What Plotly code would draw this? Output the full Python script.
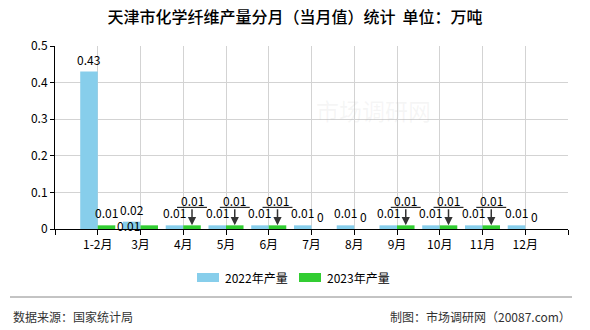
import plotly.graph_objects as go

# ---------------- data ----------------
categories = ["1-2月", "3月", "4月", "5月", "6月", "7月", "8月", "9月", "10月", "11月", "12月"]
values_2022 = [0.43, 0.02, 0.01, 0.01, 0.01, 0.01, 0.01, 0.01, 0.01, 0.01, 0.01]
values_2023 = [0.01, 0.01, 0.01, 0.01, 0.01, 0, 0, 0.01, 0.01, 0.01, 0]
series_names = ["2022年产量", "2023年产量"]
# label placement for 2023 labels (presentation only)
label_style_2023 = ["plain", "shifted", "arrow", "arrow", "arrow", "plain", "plain",
                    "arrow", "arrow", "arrow", "plain"]
y_ticks = [0, 0.1, 0.2, 0.3, 0.4, 0.5]

title_text = "天津市化学纤维产量分月（当月值）统计  单位：万吨"
source_text = "数据来源：国家统计局"
credit_text = "制图：市场调研网（20087.com）"
watermark_text = "市场调研网"

# ---------------- style ----------------
W, H = 590, 330
L, R, T, B = 55, 568, 46, 229
FONT = "Noto Sans CJK SC"
BLUE = "#87CEEB"
GREEN = "#32CD32"
GRID = "#d3d3d3"
BAR_GAP = 0.18
HALF = (1 - BAR_GAP) / 4  # offset of each bar centre from category position


def px_x(px):
    return (px - L) / (R - L)


def px_y(py):
    return (B - py) / (B - T)


xpos = [i + 1 for i in range(len(categories))]

fig = go.Figure()
fig.add_trace(go.Bar(x=xpos, y=values_2022, name=series_names[0], marker_color=BLUE,
                     marker_line_width=0, showlegend=False))
fig.add_trace(go.Bar(x=xpos, y=values_2023, name=series_names[1], marker_color=GREEN,
                     marker_line_width=0, showlegend=False))

annotations = []
shapes = []
lab_font = dict(family=FONT, size=12, color="#000000")

for i, x in enumerate(xpos):
    # 2022 labels
    annotations.append(dict(x=x - HALF, y=values_2022[i], xref="x", yref="y",
                            text=f"{values_2022[i]:g}", showarrow=False,
                            yanchor="middle", yshift=12.5, font=lab_font))
    v = values_2023[i]
    st = label_style_2023[i]
    if st == "plain":
        annotations.append(dict(x=x + HALF, y=v, xref="x", yref="y",
                                text=f"{v:g}", showarrow=False,
                                yanchor="middle", yshift=12.5, font=lab_font))
    elif st == "shifted":
        annotations.append(dict(x=x - 0.27, y=v, xref="x", yref="y",
                                text=f"{v:g}", showarrow=False,
                                yanchor="middle", yshift=0, font=lab_font))
    else:  # arrow
        annotations.append(dict(x=x + HALF, y=v, xref="x", yref="y",
                                text=f"{v:g}", showarrow=True, ax=0, ay=-25,
                                arrowhead=2, arrowsize=1.1, arrowwidth=1.5,
                                arrowcolor="#333333", borderpad=0, font=lab_font))
        shapes.append(dict(type="line", xref="x", yref="y", ysizemode="pixel",
                           yanchor=v, x0=x + HALF - 0.35, x1=x + HALF + 0.35,
                           y0=18, y1=18, line=dict(color="#000000", width=1)))

# watermark
annotations.append(dict(x=px_x(433), y=px_y(110), xref="paper", yref="paper",
                        text=watermark_text, showarrow=False,
                        font=dict(family=FONT, size=23, color="rgba(180,180,180,0.12)")))

# custom legend
leg = [(197, 219, 223, BLUE, series_names[0]), (299, 321, 325, GREEN, series_names[1])]
for x0, x1, tx, col, name in leg:
    shapes.append(dict(type="rect", xref="paper", yref="paper",
                       x0=px_x(x0), x1=px_x(x1), y0=px_y(282), y1=px_y(273),
                       fillcolor=col, line=dict(width=0)))
    annotations.append(dict(x=px_x(tx), y=px_y(277.5), xref="paper", yref="paper",
                            text=name, showarrow=False, xanchor="left", yanchor="middle",
                            font=dict(family=FONT, size=12, color="#000000")))

# footer
shapes.append(dict(type="line", xref="paper", yref="paper",
                   x0=px_x(10), x1=px_x(572), y0=px_y(297), y1=px_y(297),
                   line=dict(color="#888888", width=1)))
annotations.append(dict(x=px_x(11), y=px_y(316), xref="paper", yref="paper",
                        text=source_text, showarrow=False, xanchor="left", yanchor="middle",
                        font=dict(family=FONT, size=12, color="#333333")))
annotations.append(dict(x=px_x(573), y=px_y(316), xref="paper", yref="paper",
                        text=credit_text, showarrow=False, xanchor="right", yanchor="middle",
                        font=dict(family=FONT, size=12, color="#333333")))

fig.update_layout(
    width=W, height=H,
    margin=dict(l=L, r=W - R, t=T, b=H - B, pad=0),
    paper_bgcolor="white", plot_bgcolor="white",
    barmode="group", bargap=BAR_GAP, bargroupgap=0,
    title=dict(text=title_text, xref="container", x=0.5, xanchor="center",
               yref="container", y=1 - 17.5 / H, yanchor="middle",
               font=dict(family=FONT, size=16, color="#000000", weight=500)),
    font=dict(family=FONT, size=12, color="#000000"),
    annotations=annotations,
    shapes=shapes,
    showlegend=False,
)
fig.update_xaxes(type="linear", range=[0, len(categories) + 1],
                 tickmode="array", tickvals=list(range(len(categories) + 2)),
                 ticktext=[""] + categories + [""],
                 showgrid=True, gridcolor=GRID, gridwidth=1,
                 showline=True, linecolor="#000000", linewidth=1,
                 ticks="outside", ticklen=5, tickcolor="#000000",
                 zeroline=False, tickfont=dict(family=FONT, size=12, color="#000000"))
fig.update_yaxes(range=[0, 0.5], tickmode="array", tickvals=y_ticks,
                 ticktext=[f"{t:g}" for t in y_ticks],
                 showgrid=True, gridcolor=GRID, gridwidth=1,
                 showline=True, linecolor="#000000", linewidth=1,
                 ticks="outside", ticklen=4, tickcolor="#000000",
                 zeroline=False, tickfont=dict(family=FONT, size=12, color="#000000"))

fig.write_html("out.html")
